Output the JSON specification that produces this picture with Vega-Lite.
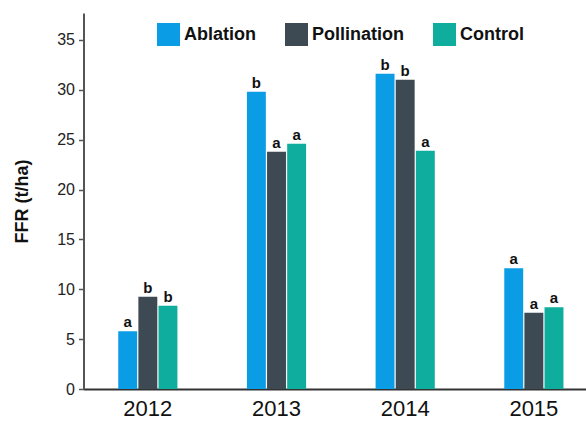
{
  "$schema": "https://vega.github.io/schema/vega-lite/v6.json",
  "width": 502.5,
  "height": 376,
  "autosize": {"type": "none"},
  "padding": {"left": 83.5, "top": 13, "right": 0, "bottom": 33},
  "config": {
    "view": {"stroke": null},
    "font": "Liberation Sans, Arial, sans-serif"
  },
  "data": {
    "values": [
      {"year": "2012", "treatment": "Ablation", "ffr": 5.8, "sig": "a"},
      {"year": "2012", "treatment": "Pollination", "ffr": 9.25, "sig": "b"},
      {"year": "2012", "treatment": "Control", "ffr": 8.35, "sig": "b"},
      {"year": "2013", "treatment": "Ablation", "ffr": 29.8, "sig": "b"},
      {"year": "2013", "treatment": "Pollination", "ffr": 23.8, "sig": "a"},
      {"year": "2013", "treatment": "Control", "ffr": 24.6, "sig": "a"},
      {"year": "2014", "treatment": "Ablation", "ffr": 31.6, "sig": "b"},
      {"year": "2014", "treatment": "Pollination", "ffr": 31.0, "sig": "b"},
      {"year": "2014", "treatment": "Control", "ffr": 23.9, "sig": "a"},
      {"year": "2015", "treatment": "Ablation", "ffr": 12.1, "sig": "a"},
      {"year": "2015", "treatment": "Pollination", "ffr": 7.65, "sig": "a"},
      {"year": "2015", "treatment": "Control", "ffr": 8.2, "sig": "a"}
    ]
  },
  "encoding": {
    "x": {
      "field": "year",
      "type": "nominal",
      "title": null,
      "scale": {"range": [0, 514.7], "paddingInner": 0.54, "paddingOuter": 0.27},
      "axis": {
        "domainColor": "#333333",
        "domainWidth": 2,
        "ticks": false,
        "labelAngle": 0,
        "labelFontSize": 22,
        "labelColor": "#111111",
        "labelPadding": 9
      }
    },
    "xOffset": {
      "field": "treatment",
      "type": "nominal",
      "sort": ["Ablation", "Pollination", "Control"],
      "scale": {"paddingInner": 0.06}
    },
    "y": {
      "field": "ffr",
      "type": "quantitative",
      "scale": {"domain": [0, 37.7], "nice": false},
      "axis": {
        "values": [0, 5, 10, 15, 20, 25, 30, 35],
        "grid": false,
        "domainColor": "#555555",
        "domainWidth": 2,
        "tickColor": "#555555",
        "tickSize": 5,
        "tickWidth": 1.5,
        "labelFontSize": 16,
        "labelColor": "#222222",
        "labelPadding": 4,
        "title": "FFR (t/ha)",
        "titleFontSize": 18,
        "titleFontWeight": "bold",
        "titleColor": "#111111",
        "titlePadding": 25
      }
    }
  },
  "layer": [
    {
      "mark": {"type": "bar"},
      "encoding": {
        "color": {
          "field": "treatment",
          "type": "nominal",
          "sort": ["Ablation", "Pollination", "Control"],
          "scale": {
            "domain": ["Ablation", "Pollination", "Control"],
            "range": ["#0A9DE6", "#3D4A54", "#0EAD9D"]
          },
          "legend": {
            "title": null,
            "orient": "none",
            "legendX": 73.5,
            "legendY": 10,
            "direction": "horizontal",
            "symbolType": "square",
            "symbolSize": 529,
            "symbolStrokeWidth": 0,
            "symbolOpacity": 1,
            "labelFontSize": 18,
            "labelFontWeight": "bold",
            "labelColor": "#111111",
            "labelOffset": 4,
            "columnPadding": 29
          }
        }
      }
    },
    {
      "mark": {
        "type": "text",
        "baseline": "alphabetic",
        "dy": -4,
        "fontSize": 15,
        "fontWeight": "bold",
        "color": "#111111"
      },
      "encoding": {"text": {"field": "sig"}}
    }
  ]
}
